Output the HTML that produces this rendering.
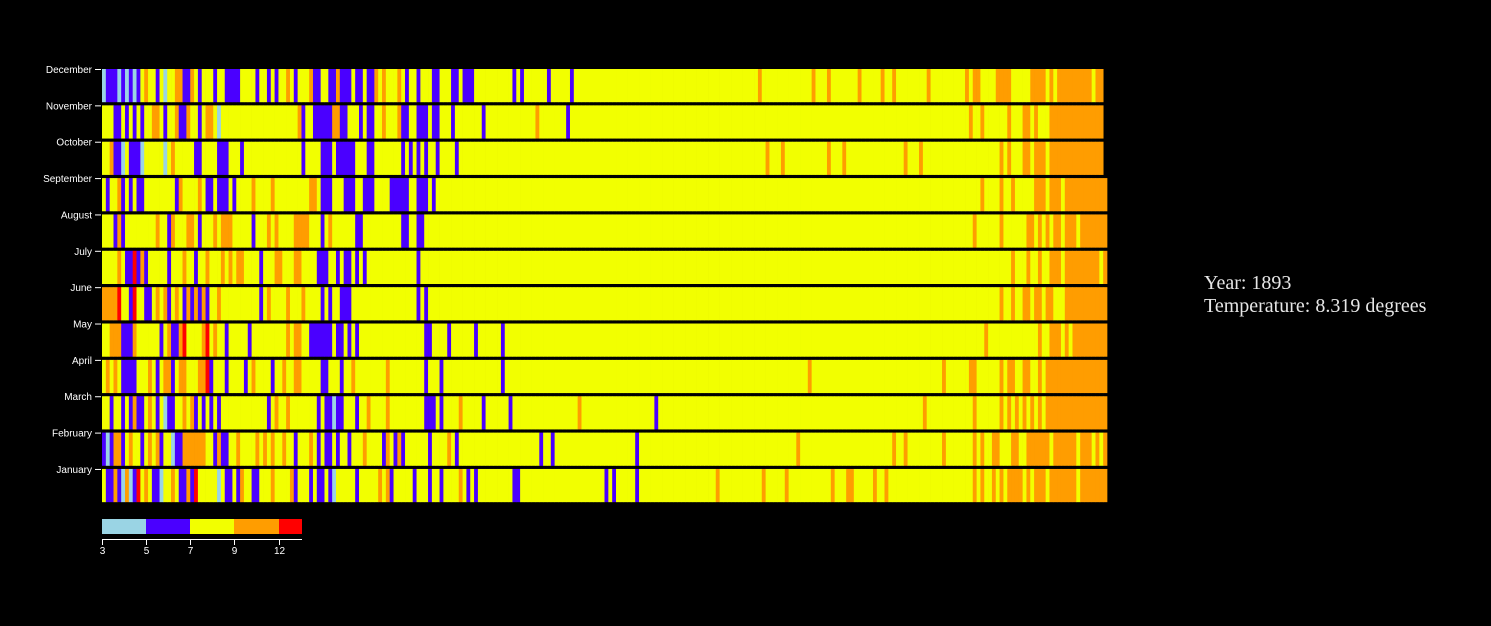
<!DOCTYPE html>
<html><head><meta charset="utf-8"><style>
html,body{margin:0;padding:0;background:#000;width:1491px;height:626px;overflow:hidden}
svg{display:block}
</style></head><body>
<svg id="chart" width="1491" height="626" xmlns="http://www.w3.org/2000/svg">
<rect x="0" y="0" width="1491" height="626" fill="#000"/>
<g id="cells"></g>
<g id="yaxis"></g>
<g id="legend"></g>
<text x="1204" y="289" font-family="Liberation Serif, serif" font-size="20" fill="#e6e6e6">Year: 1893</text>
<text x="1204" y="312" font-family="Liberation Serif, serif" font-size="20" fill="#e6e6e6">Temperature: 8.319 degrees</text>
</svg>
<script>
const months = ["January","February","March","April","May","June","July","August","September","October","November","December"];
const firstYear = 1753;
const lastYearByMonth = [2014,2014,2014,2014,2014,2014,2014,2014,2014,2013,2013,2013];
const thresholds = [5,7,9,12];
const colors = ["#9ad4e4","#4a00ff","#f2ff00","#ff9d00","#ff0000"];
const legendTicks = [3,5,7,9,12];
const legendDomain = [3,5,7,9,12,13.5];
// runs: [startYear, temperature] (each value holds until next start year)
const jan=[[1753,8.1],[1754,6.1],[1756,10.2],[1757,6.1],[1758,4.2],[1759,10.2],[1760,4.2],[1761,6.1],[1762,12.5],[1763,8.1],[1764,10.2],[1765,8.1],[1766,6.1],[1768,4.2],[1769,8.1],[1771,10.2],[1772,8.1],[1773,6.1],[1775,10.2],[1776,6.1],[1777,12.5],[1778,8.1],[1783,4.2],[1784,8.1],[1785,6.1],[1787,8.1],[1788,6.1],[1789,10.2],[1790,8.1],[1792,6.1],[1794,8.1],[1797,10.2],[1798,8.1],[1802,10.2],[1803,6.1],[1804,8.1],[1807,6.1],[1808,8.1],[1809,6.1],[1811,8.1],[1812,6.1],[1813,4.2],[1814,8.1],[1819,6.1],[1820,8.1],[1825,10.2],[1826,8.1],[1827,10.2],[1828,6.1],[1829,8.1],[1834,6.1],[1835,8.1],[1838,6.1],[1839,8.1],[1841,6.1],[1842,8.1],[1846,10.2],[1847,8.1],[1848,6.1],[1849,8.1],[1850,6.1],[1851,8.1],[1860,6.1],[1862,8.1],[1884,6.1],[1885,8.1],[1886,6.1],[1887,8.1],[1892,6.1],[1893,8.1],[1913,10.2],[1914,8.1],[1925,10.2],[1926,8.1],[1931,10.2],[1932,8.1],[1943,10.2],[1944,8.1],[1947,10.2],[1949,8.1],[1954,10.2],[1955,8.1],[1957,10.2],[1958,8.1],[1980,10.2],[1981,8.1],[1982,10.2],[1983,8.1],[1985,10.2],[1986,8.1],[1987,10.2],[1988,8.1],[1989,10.2],[1993,8.1],[1994,10.2],[1995,8.1],[1996,10.2],[1999,8.1],[2000,10.2],[2007,8.1],[2008,10.2]];
const feb=[[1753,6.1],[1754,4.2],[1755,6.1],[1756,10.2],[1758,6.1],[1759,8.1],[1760,10.2],[1761,8.1],[1763,6.1],[1764,8.1],[1765,10.2],[1766,8.1],[1767,10.2],[1768,6.1],[1769,8.1],[1771,4.2],[1772,6.1],[1774,10.2],[1780,8.1],[1782,6.1],[1783,10.2],[1784,6.1],[1786,8.1],[1788,10.2],[1789,8.1],[1793,10.2],[1794,8.1],[1795,10.2],[1796,8.1],[1797,10.2],[1798,8.1],[1800,10.2],[1801,8.1],[1803,6.1],[1804,8.1],[1807,10.2],[1808,8.1],[1809,6.1],[1810,8.1],[1811,6.1],[1813,8.1],[1814,6.1],[1815,8.1],[1817,6.1],[1818,8.1],[1821,10.2],[1822,8.1],[1826,6.1],[1827,10.2],[1828,8.1],[1829,6.1],[1830,10.2],[1831,6.1],[1832,8.1],[1838,6.1],[1839,8.1],[1843,10.2],[1844,8.1],[1845,6.1],[1846,8.1],[1867,6.1],[1868,8.1],[1870,6.1],[1871,8.1],[1892,6.1],[1893,8.1],[1934,10.2],[1935,8.1],[1959,10.2],[1960,8.1],[1962,10.2],[1963,8.1],[1972,10.2],[1973,8.1],[1980,10.2],[1981,8.1],[1982,10.2],[1983,8.1],[1985,10.2],[1987,8.1],[1990,10.2],[1992,8.1],[1994,10.2],[2000,8.1],[2001,10.2],[2007,8.1],[2008,10.2],[2011,8.1],[2012,10.2],[2013,8.1],[2014,10.2]];
const mar=[[1753,8.1],[1755,6.1],[1756,8.1],[1758,6.1],[1759,8.1],[1760,6.1],[1761,10.2],[1762,6.1],[1764,8.1],[1765,10.2],[1766,8.1],[1767,6.1],[1768,8.1],[1769,4.2],[1770,6.1],[1772,8.1],[1774,10.2],[1775,8.1],[1776,10.2],[1777,6.1],[1778,8.1],[1779,6.1],[1780,8.1],[1781,6.1],[1782,8.1],[1783,6.1],[1784,8.1],[1796,6.1],[1797,8.1],[1798,10.2],[1799,8.1],[1801,10.2],[1802,8.1],[1809,6.1],[1810,8.1],[1811,6.1],[1813,4.2],[1814,6.1],[1816,8.1],[1819,6.1],[1820,8.1],[1822,10.2],[1823,8.1],[1827,10.2],[1828,8.1],[1837,6.1],[1840,8.1],[1841,6.1],[1842,8.1],[1846,10.2],[1847,8.1],[1852,6.1],[1853,8.1],[1859,6.1],[1860,8.1],[1877,10.2],[1878,8.1],[1897,6.1],[1898,8.1],[1967,10.2],[1968,8.1],[1980,10.2],[1981,8.1],[1987,10.2],[1988,8.1],[1989,10.2],[1990,8.1],[1991,10.2],[1992,8.1],[1993,10.2],[1994,8.1],[1995,10.2],[1996,8.1],[1997,10.2],[1998,8.1],[1999,10.2]];
const apr=[[1753,8.1],[1754,10.2],[1755,8.1],[1756,10.2],[1757,8.1],[1758,6.1],[1762,8.1],[1765,10.2],[1766,8.1],[1767,6.1],[1768,8.1],[1769,10.2],[1771,6.1],[1772,8.1],[1773,10.2],[1775,8.1],[1778,10.2],[1780,12.5],[1781,6.1],[1782,8.1],[1785,6.1],[1786,8.1],[1790,6.1],[1791,8.1],[1792,10.2],[1793,8.1],[1797,6.1],[1798,8.1],[1800,10.2],[1801,8.1],[1803,10.2],[1805,8.1],[1810,6.1],[1812,8.1],[1815,6.1],[1816,8.1],[1818,10.2],[1819,8.1],[1827,10.2],[1828,8.1],[1837,6.1],[1838,8.1],[1841,6.1],[1842,8.1],[1857,6.1],[1858,8.1],[1937,10.2],[1938,8.1],[1972,10.2],[1973,8.1],[1979,10.2],[1981,8.1],[1987,10.2],[1988,8.1],[1989,10.2],[1991,8.1],[1993,10.2],[1995,8.1],[1997,10.2],[1998,8.1],[1999,10.2]];
const may=[[1753,8.1],[1755,10.2],[1758,6.1],[1761,10.2],[1762,8.1],[1768,6.1],[1769,8.1],[1770,10.2],[1771,6.1],[1773,10.2],[1774,12.5],[1775,8.1],[1779,10.2],[1780,12.5],[1781,8.1],[1782,10.2],[1783,8.1],[1785,6.1],[1786,8.1],[1791,6.1],[1792,8.1],[1801,10.2],[1802,8.1],[1803,10.2],[1805,8.1],[1807,6.1],[1813,8.1],[1814,6.1],[1816,8.1],[1817,6.1],[1818,8.1],[1819,6.1],[1820,8.1],[1837,6.1],[1839,8.1],[1843,6.1],[1844,8.1],[1850,6.1],[1851,8.1],[1857,6.1],[1858,8.1],[1983,10.2],[1984,8.1],[1997,10.2],[1998,8.1],[2000,10.2],[2003,8.1],[2004,10.2],[2005,8.1],[2006,10.2]];
const jun=[[1753,10.2],[1757,12.5],[1758,8.1],[1760,6.1],[1761,12.5],[1762,8.1],[1764,6.1],[1766,8.1],[1767,10.2],[1768,8.1],[1769,10.2],[1770,6.1],[1771,8.1],[1772,10.2],[1773,8.1],[1774,6.1],[1775,10.2],[1776,6.1],[1777,10.2],[1778,6.1],[1779,10.2],[1780,6.1],[1781,8.1],[1783,10.2],[1784,8.1],[1794,6.1],[1795,8.1],[1796,10.2],[1797,8.1],[1801,10.2],[1802,8.1],[1805,10.2],[1806,8.1],[1810,6.1],[1811,8.1],[1812,6.1],[1813,8.1],[1815,6.1],[1818,8.1],[1835,6.1],[1836,8.1],[1837,6.1],[1838,8.1],[1987,10.2],[1988,8.1],[1990,10.2],[1991,8.1],[1993,10.2],[1995,8.1],[1996,10.2],[1998,8.1],[1999,10.2],[2001,8.1],[2004,10.2]];
const jul=[[1753,8.1],[1757,10.2],[1758,8.1],[1759,6.1],[1761,12.5],[1762,6.1],[1763,10.2],[1764,6.1],[1765,8.1],[1770,6.1],[1771,8.1],[1774,10.2],[1775,8.1],[1777,6.1],[1778,8.1],[1780,10.2],[1781,8.1],[1784,10.2],[1785,8.1],[1786,10.2],[1787,8.1],[1788,10.2],[1790,8.1],[1794,6.1],[1795,8.1],[1798,10.2],[1800,8.1],[1803,10.2],[1805,8.1],[1809,6.1],[1812,8.1],[1814,6.1],[1815,8.1],[1816,6.1],[1818,8.1],[1819,6.1],[1820,8.1],[1821,6.1],[1822,8.1],[1835,6.1],[1836,8.1],[1990,10.2],[1991,8.1],[1994,10.2],[1995,8.1],[1997,10.2],[1998,8.1],[2000,10.2],[2003,8.1],[2004,10.2],[2013,8.1],[2014,10.2]];
const aug=[[1753,8.1],[1756,6.1],[1757,10.2],[1758,6.1],[1759,8.1],[1767,10.2],[1768,8.1],[1770,6.1],[1771,10.2],[1772,8.1],[1775,10.2],[1777,8.1],[1778,6.1],[1779,8.1],[1782,10.2],[1783,8.1],[1784,10.2],[1787,8.1],[1792,6.1],[1793,8.1],[1796,10.2],[1797,8.1],[1798,10.2],[1799,8.1],[1803,10.2],[1807,8.1],[1810,6.1],[1811,8.1],[1812,10.2],[1813,8.1],[1819,6.1],[1821,8.1],[1831,6.1],[1833,8.1],[1835,6.1],[1837,8.1],[1980,10.2],[1981,8.1],[1987,10.2],[1988,8.1],[1994,10.2],[1996,8.1],[1997,10.2],[1998,8.1],[1999,10.2],[2000,8.1],[2001,10.2],[2003,8.1],[2004,10.2],[2007,8.1],[2008,10.2]];
const sep=[[1753,8.1],[1754,6.1],[1755,8.1],[1757,10.2],[1758,6.1],[1759,8.1],[1760,6.1],[1761,8.1],[1762,6.1],[1764,8.1],[1772,6.1],[1773,10.2],[1774,8.1],[1778,10.2],[1779,8.1],[1780,6.1],[1782,8.1],[1783,6.1],[1786,8.1],[1787,6.1],[1788,8.1],[1792,10.2],[1793,8.1],[1797,10.2],[1798,8.1],[1807,10.2],[1809,8.1],[1810,6.1],[1813,8.1],[1816,6.1],[1819,8.1],[1821,6.1],[1824,8.1],[1828,6.1],[1833,8.1],[1835,6.1],[1838,8.1],[1839,6.1],[1840,8.1],[1982,10.2],[1983,8.1],[1987,10.2],[1988,8.1],[1990,10.2],[1991,8.1],[1996,10.2],[1999,8.1],[2000,10.2],[2003,8.1],[2004,10.2]];
const oct=[[1753,8.1],[1755,10.2],[1756,6.1],[1758,4.2],[1759,8.1],[1760,6.1],[1763,4.2],[1764,8.1],[1769,4.2],[1770,8.1],[1771,10.2],[1772,8.1],[1777,6.1],[1779,8.1],[1783,6.1],[1786,8.1],[1789,6.1],[1790,8.1],[1805,6.1],[1806,8.1],[1810,6.1],[1813,8.1],[1814,6.1],[1819,8.1],[1822,6.1],[1824,8.1],[1831,6.1],[1832,8.1],[1833,6.1],[1834,8.1],[1835,6.1],[1836,8.1],[1837,6.1],[1838,8.1],[1840,6.1],[1841,8.1],[1845,6.1],[1846,8.1],[1926,10.2],[1927,8.1],[1930,10.2],[1931,8.1],[1942,10.2],[1943,8.1],[1946,10.2],[1947,8.1],[1962,10.2],[1963,8.1],[1966,10.2],[1967,8.1],[1987,10.2],[1988,8.1],[1989,10.2],[1990,8.1],[1993,10.2],[1995,8.1],[1996,10.2],[1999,8.1],[2000,10.2]];
const nov=[[1753,8.1],[1756,6.1],[1758,8.1],[1759,6.1],[1760,8.1],[1761,6.1],[1762,8.1],[1763,6.1],[1764,8.1],[1766,10.2],[1768,8.1],[1769,6.1],[1770,8.1],[1772,10.2],[1773,6.1],[1775,10.2],[1776,8.1],[1778,6.1],[1779,8.1],[1780,10.2],[1782,8.1],[1783,4.2],[1784,8.1],[1804,10.2],[1805,6.1],[1806,8.1],[1808,6.1],[1813,10.2],[1815,6.1],[1817,8.1],[1820,6.1],[1821,8.1],[1822,6.1],[1824,8.1],[1826,10.2],[1827,8.1],[1830,10.2],[1831,6.1],[1833,8.1],[1835,6.1],[1838,8.1],[1839,6.1],[1841,8.1],[1844,6.1],[1845,8.1],[1852,6.1],[1853,8.1],[1866,10.2],[1867,8.1],[1874,6.1],[1875,8.1],[1979,10.2],[1980,8.1],[1982,10.2],[1983,8.1],[1989,10.2],[1990,8.1],[1993,10.2],[1995,8.1],[1996,10.2],[1997,8.1],[2000,10.2]];
const dec=[[1753,4.2],[1754,6.1],[1757,4.2],[1758,6.1],[1759,4.2],[1760,6.1],[1761,4.2],[1762,6.1],[1763,8.1],[1764,10.2],[1765,8.1],[1767,6.1],[1768,8.1],[1769,4.2],[1770,8.1],[1772,10.2],[1774,6.1],[1776,10.2],[1777,8.1],[1778,6.1],[1779,8.1],[1782,6.1],[1783,8.1],[1785,6.1],[1789,8.1],[1793,6.1],[1794,8.1],[1796,6.1],[1797,8.1],[1798,6.1],[1799,8.1],[1801,10.2],[1802,8.1],[1803,6.1],[1804,8.1],[1807,10.2],[1808,6.1],[1810,8.1],[1812,6.1],[1814,10.2],[1815,6.1],[1818,8.1],[1819,6.1],[1821,8.1],[1822,6.1],[1824,10.2],[1825,8.1],[1826,10.2],[1827,8.1],[1830,10.2],[1831,8.1],[1832,6.1],[1833,8.1],[1835,6.1],[1836,8.1],[1839,6.1],[1841,8.1],[1844,6.1],[1846,8.1],[1847,6.1],[1850,8.1],[1860,6.1],[1861,8.1],[1862,6.1],[1863,8.1],[1869,6.1],[1870,8.1],[1875,6.1],[1876,8.1],[1924,10.2],[1925,8.1],[1938,10.2],[1939,8.1],[1942,10.2],[1943,8.1],[1950,10.2],[1951,8.1],[1956,10.2],[1957,8.1],[1959,10.2],[1960,8.1],[1968,10.2],[1969,8.1],[1978,10.2],[1979,8.1],[1980,10.2],[1982,8.1],[1986,10.2],[1990,8.1],[1995,10.2],[1999,8.1],[2000,10.2],[2001,8.1],[2002,10.2],[2011,8.1],[2012,10.2]];
const monthRuns=[jan,feb,mar,apr,may,jun,jul,aug,sep,oct,nov,dec];

const NS="http://www.w3.org/2000/svg";
const plotLeft=102, plotRight=1107, nYears=262, rowTop=69, rowPitch=36.36, rowH=33.2;
const cellW=(plotRight-plotLeft)/nYears;
function xScale(year){return plotLeft+(year-firstYear)*cellW;}
function yScale(m){return rowTop+(11-m)*rowPitch;}
function colorOf(t){let i=0;while(i<thresholds.length&&t>=thresholds[i])i++;return colors[i];}
function legendX(v){const px=[102,146,190,234,279,302];for(let i=0;i<legendDomain.length-1;i++){if(v<=legendDomain[i+1]){return px[i]+(v-legendDomain[i])/(legendDomain[i+1]-legendDomain[i])*(px[i+1]-px[i]);}}return 302;}
function mk(tag,attrs){const e=document.createElementNS(NS,tag);for(const k in attrs)e.setAttribute(k,attrs[k]);return e;}

const cells=document.getElementById('cells');
monthRuns.forEach((runs,m)=>{
  const end=lastYearByMonth[m];
  for(let r=0;r<runs.length;r++){
    const start=runs[r][0];
    const stop=r+1<runs.length?runs[r+1][0]-1:end;
    for(let y=start;y<=stop;y++){
      const x0=xScale(y);
      const rect=mk('rect',{x:x0.toFixed(2),y:yScale(m).toFixed(2),width:(cellW+0.35).toFixed(2),height:rowH,fill:colorOf(runs[r][1])});
      
      
      cells.appendChild(rect);
    }
  }
});

const yaxis=document.getElementById('yaxis');
months.forEach((name,m)=>{
  const ty=yScale(m)+0.5;
  const tick=mk('line',{x1:95,x2:101,y1:ty,y2:ty,stroke:'#fff','stroke-width':1});
  
  
  yaxis.appendChild(tick);
  const t=mk('text',{x:92,y:ty+3.5,'text-anchor':'end','font-family':'Liberation Sans, sans-serif','font-size':10,fill:'#fff'});
  t.textContent=name;
  
  
  yaxis.appendChild(t);
});

const legend=document.getElementById('legend');
for(let i=0;i<colors.length;i++){
  const x0=legendX(legendDomain[i]), x1=legendX(legendDomain[i+1]);
  const r=mk('rect',{x:x0,y:519,width:x1-x0,height:15,fill:colors[i]});
  
  
  legend.appendChild(r);
}
const axl=mk('line',{x1:102,x2:302,y1:539.5,y2:539.5,stroke:'#fff','stroke-width':1});


legend.appendChild(axl);
legendTicks.forEach(v=>{
  const lx=legendX(v)+0.5;
  const tk=mk('line',{x1:lx,x2:lx,y1:539,y2:545,stroke:'#fff','stroke-width':1});
  
  
  legend.appendChild(tk);
  const lt=mk('text',{x:lx,y:554,'text-anchor':'middle','font-family':'Liberation Sans, sans-serif','font-size':10,fill:'#fff'});
  lt.textContent=String(v);
  
  
  legend.appendChild(lt);
});
</script>
</body></html>
